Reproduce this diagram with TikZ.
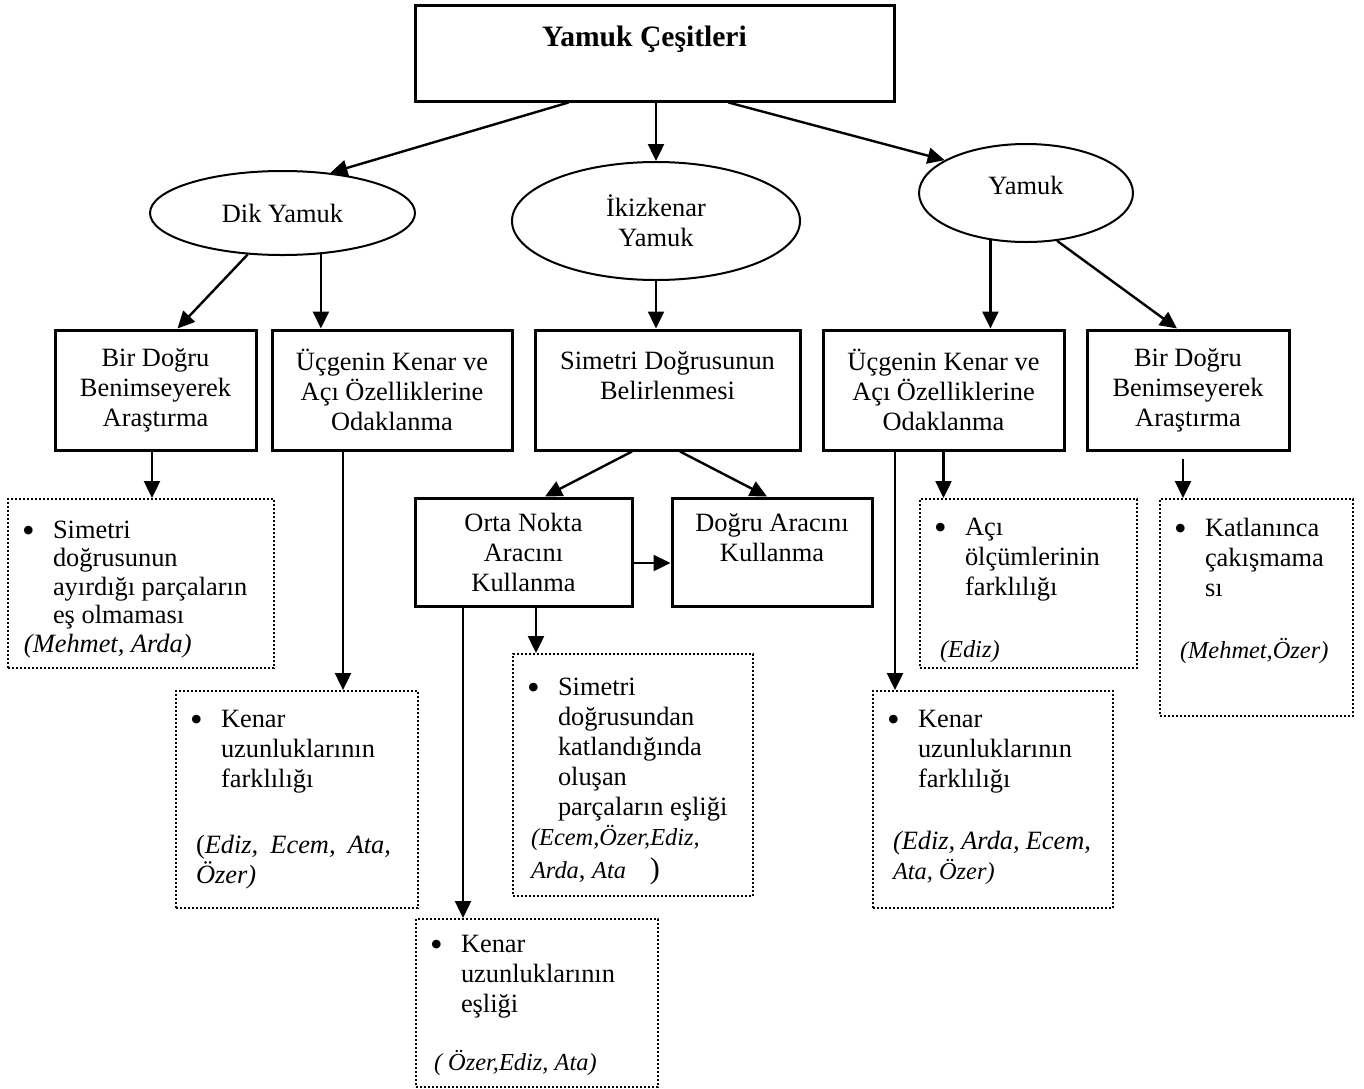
\documentclass[tikz,border=0pt]{standalone}
\usepackage{fontspec}
\setmainfont{Liberation Serif}
\usetikzlibrary{arrows.meta,shapes.geometric}
\tikzset{
  kutu/.style={draw=black, line width=1.5pt, minimum height=60pt, align=center, inner sep=2pt},
  elips/.style={draw=black, ellipse, line width=1pt, align=center, inner sep=1pt},
  notkutu/.style={draw=black, line width=1pt, densely dotted, anchor=north west, inner sep=0pt},
  ok/.style={-{Triangle[length=8.5pt,width=8pt]}, line width=1.2pt}
}
% madde imi ve devam satirlari icin girinti
\newcommand{\madde}{\makebox[22.5pt][l]{\hspace{7pt}\raisebox{-2pt}{\fontsize{18}{15}\selectfont\textbullet}}}
\newcommand{\girinti}{\hspace*{22.5pt}}
\newcommand{\kisaisim}{\fontsize{12.2}{15}\selectfont\itshape}
% noktali kutunun icerigi: ust bosluk, genislik, yukseklik, metin
\newcommand{\notmetni}[4][9.5pt]{\parbox[c][#3][t]{#2}{\vspace*{#1}#4}}

\begin{document}
\begin{tikzpicture}[x=.5pt, y=-.5pt, font=\fontsize{13.2}{15}\selectfont]
  \useasboundingbox (0,0) rectangle (1364,1088);

  \node[kutu, minimum width=239.5pt, minimum height=48pt,
    font=\fontsize{14.8}{16.8}\selectfont\bfseries] (ust) at (654.5,53) {Yamuk Çeşitleri\rule{10pt}{0pt}\\ \mbox{}};

  \node[elips, minimum width=132.5pt, minimum height=42pt] (dik) at (282.5,213) {Dik Yamuk};
  \node[elips, minimum width=144pt, minimum height=59pt] (ikiz) at (656,221) {İkizkenar\\Yamuk};
  \node[elips, minimum width=107pt, minimum height=49pt, text depth=8pt] (yamuk) at (1026,193) {Yamuk};

  \node[kutu, minimum width=100.5pt] (b1) at (155.5,390) {Bir Doğru\\Benimseyerek\\Araştırma};
  \node[kutu, minimum width=120pt] (b2) at (392,390) {Üçgenin Kenar ve\\Açı Özelliklerine\\Odaklanma};
  \node[kutu, minimum width=132.5pt] (b3) at (667.5,390) {Simetri Doğrusunun\\Belirlenmesi\\ \mbox{}};
  \node[kutu, minimum width=120.5pt] (b4) at (943.5,390) {Üçgenin Kenar ve\\Açı Özelliklerine\\Odaklanma};
  \node[kutu, minimum width=101pt] (b5) at (1188,390) {Bir Doğru\\Benimseyerek\\Araştırma};
  \node[kutu, minimum width=108.5pt, minimum height=54pt] (b6) at (523.5,552) {Orta Nokta\\Aracını\\Kullanma};
  \node[kutu, minimum width=100pt, minimum height=54pt] (b7) at (772,552) {Doğru Aracını\\Kullanma\\ \mbox{}};

  % noktali kutular
  \node[notkutu] (d1) at (7,498) {\notmetni[11pt]{133pt}{84.5pt}{\baselineskip=14.2pt
    \madde Simetri\\ \girinti doğrusunun\\ \girinti ayırdığı\ parçaların\\ \girinti eş olmaması\\
    \hspace*{8pt}\textit{(Mehmet, Arda)}}};
  \node[notkutu] (d2) at (175,690) {\notmetni{121pt}{108.5pt}{
    \madde Kenar\\ \girinti uzunluklarının\\ \girinti farklılığı\\[18pt]
    \hspace*{10pt}\makebox[97.5pt][s]{(\textit{Ediz, Ecem, Ata,}}\\
    \hspace*{10pt}\textit{Özer)}}};
  \node[notkutu] (d3) at (512,653) {\notmetni[12pt]{120pt}{121pt}{
    \madde Simetri\\ \girinti doğrusundan\\ \girinti katlandığında\\ \girinti oluşan\\
    \girinti parçaların eşliği\\
    \hspace*{9pt}{\kisaisim (Ecem,Özer,Ediz,}\\[1.5pt]
    \hspace*{9pt}{\kisaisim Arda}, {\kisaisim Ata}\hspace{12pt}{\fontsize{15}{15}\selectfont )}}};
  \node[notkutu] (d4) at (415,918) {\notmetni[8pt]{121pt}{84pt}{
    \madde Kenar\\ \girinti uzunluklarının\\ \girinti eşliği\\[14pt]
    \hspace*{9pt}{\kisaisim ( Özer,Ediz, Ata)}}};
  \node[notkutu] (d5) at (919,498) {\notmetni{108.5pt}{84.5pt}{
    \madde Açı\\ \girinti ölçümlerinin\\ \girinti farklılığı\\[16pt]
    \hspace*{10pt}{\kisaisim (Ediz)}}};
  \node[notkutu] (d6) at (872,690) {\notmetni{120pt}{108.5pt}{
    \madde Kenar\\ \girinti uzunluklarının\\ \girinti farklılığı\\[16pt]
    \hspace*{10pt}\makebox[99pt][s]{\textit{(Ediz, Arda, Ecem,}}\\
    \hspace*{10pt}{\kisaisim Ata, Özer)}}};
  \node[notkutu] (d7) at (1159,498) {\notmetni{96.5pt}{108.5pt}{
    \madde Katlanınca\\ \girinti çakışmama\\ \girinti sı\\[16pt]
    \hspace*{10pt}{\kisaisim (Mehmet,Özer)}}};

  % oklar
  \draw[ok] ([xshift=-43pt]ust.south) -- (dik.40);
  \draw[ok] (ust.south -| ikiz.north) -- (ikiz.north);
  \draw[ok] ([xshift=37pt]ust.south) -- (yamuk.158);
  \draw[ok] (dik.230) -- ([xshift=11pt]b1.north);
  \draw[ok] (dik.313) -- (dik.313 |- b2.north);
  \draw[ok] (ikiz.south) -- (ikiz.south |- b3.north);
  \draw[ok] (yamuk.233) -- (yamuk.233 |- b4.north);
  \draw[ok] (yamuk.303) -- ([xshift=-5.5pt]b5.north);
  \draw[ok] ([xshift=-17.75pt]b3.south) -- ([xshift=10.75pt]b6.north);
  \draw[ok] ([xshift=6.25pt]b3.south) -- ([xshift=-2.5pt]b7.north);
  \draw[ok] ([yshift=-5.5pt]b6.east) -- ([yshift=-5.5pt]b6.east -| b7.west);
  \draw[ok] ([xshift=-1.75pt]b1.south) -- ([xshift=-1.75pt]b1.south |- d1.north);
  \draw[ok] ([xshift=-24.5pt]b2.south) -- ([xshift=-24.5pt]b2.south |- d2.north);
  \draw[ok] ([xshift=6.25pt]b6.south) -- ([xshift=6.25pt]b6.south |- d3.north);
  \draw[ok] ([xshift=-30.25pt]b6.south) -- ([xshift=-30.25pt]b6.south |- d4.north);
  \draw[ok] (b4.south) -- (b4.south |- d5.north);
  \draw[ok] ([xshift=-24.25pt]b4.south) -- ([xshift=-24.25pt]b4.south |- d6.north);
  \draw[ok, shorten <=3.5pt] ([xshift=-2.5pt]b5.south) -- ([xshift=-2.5pt]b5.south |- d7.north);
\end{tikzpicture}
\end{document}
